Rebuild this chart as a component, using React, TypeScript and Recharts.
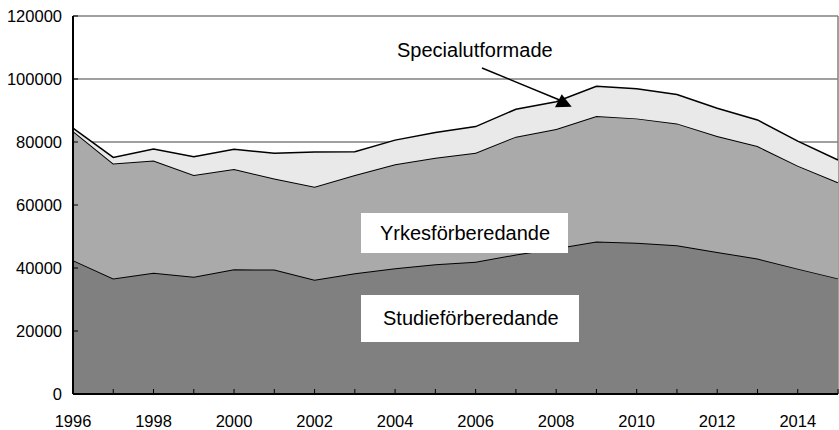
import React from 'react';
import { AreaChart, Area, XAxis, YAxis, CartesianGrid } from 'recharts';

const years = [
  1996, 1997, 1998, 1999, 2000, 2001, 2002, 2003, 2004, 2005,
  2006, 2007, 2008, 2009, 2010, 2011, 2012, 2013, 2014, 2015,
];
const studie = [
  42500, 36700, 38500, 37200, 39600, 39500, 36300, 38300, 39900, 41200,
  42000, 44300, 46300, 48400, 48000, 47200, 45100, 43000, 39800, 36700,
];
const yrkes = [
  41000, 36500, 35600, 32300, 31800, 28900, 29500, 31200, 33000, 33800,
  34600, 37400, 37800, 39850, 39500, 38700, 36800, 35700, 32700, 30500,
];
const special = [
  900, 1900, 3700, 5800, 6300, 8000, 11000, 7400, 7700, 8000,
  8300, 8700, 8700, 9450, 9400, 9200, 8800, 8300, 7800, 7100,
];
const yTicks = [0, 20000, 40000, 60000, 80000, 100000, 120000];

const data = years.map((year, i) => ({
  year,
  studie: studie[i],
  yrkes: yrkes[i],
  special: special[i],
}));

const FONT = '"Liberation Sans", Arial, sans-serif';

function YearTick(props: any) {
  const { x, y, payload } = props;
  const showLabel = payload.value % 2 === 0;
  return (
    <g>
      <line x1={x} y1={y} x2={x} y2={y - 5} stroke="#000" strokeWidth={1} />
      {showLabel && (
        <text x={x} y={y + 33} textAnchor="middle" fontSize={16.5} fontFamily={FONT} fill="#000">
          {payload.value}
        </text>
      )}
    </g>
  );
}

function ValueTick(props: any) {
  const { x, y, payload } = props;
  return (
    <g>
      <line x1={x} y1={y} x2={x + 5} y2={y} stroke="#000" strokeWidth={1} />
      <text x={x - 11} y={y} dy="0.36em" textAnchor="end" fontSize={16.5} fontFamily={FONT} fill="#000">
        {payload.value}
      </text>
    </g>
  );
}

export default function App() {
  return (
    <div style={{ position: 'absolute', left: 0, top: 0, width: 839, height: 430, background: '#fff' }}>
      <AreaChart
        width={839}
        height={430}
        data={data}
        margin={{ top: 16, right: 1, bottom: 0, left: 0 }}
      >
        <CartesianGrid
          stroke="#808080"
          strokeWidth={1.5}
          horizontal
          vertical
          verticalCoordinatesGenerator={({ offset }: any) => [offset.left + offset.width]}
        />
        <XAxis
          dataKey="year"
          type="number"
          domain={[1996, 2015]}
          ticks={years}
          interval={0}
          height={36}
          tickSize={0}
          tickMargin={0}
          tickLine={false}
          axisLine={{ stroke: '#000', strokeWidth: 2 }}
          tick={<YearTick />}
        />
        <YAxis
          domain={[0, 120000]}
          ticks={yTicks}
          interval={0}
          width={73}
          tickSize={0}
          tickMargin={0}
          tickLine={false}
          axisLine={{ stroke: '#000', strokeWidth: 2 }}
          tick={<ValueTick />}
        />
        <Area
          type="linear"
          dataKey="studie"
          stackId="a"
          fill="#808080"
          fillOpacity={1}
          stroke="#000"
          strokeWidth={2}
          isAnimationActive={false}
        />
        <Area
          type="linear"
          dataKey="yrkes"
          stackId="a"
          fill="#aaaaaa"
          fillOpacity={1}
          stroke="#000"
          strokeWidth={2}
          isAnimationActive={false}
        />
        <Area
          type="linear"
          dataKey="special"
          stackId="a"
          fill="#e9e9e9"
          fillOpacity={1}
          stroke="#000"
          strokeWidth={1.5}
          isAnimationActive={false}
        />
      </AreaChart>

      {/* series captions and the pointer to the thin top band */}
      <svg
        width={839}
        height={430}
        style={{ position: 'absolute', left: 0, top: 0, pointerEvents: 'none' }}
        fontFamily={FONT}
      >
        <text x={397} y={57} fontSize={20} fill="#000">Specialutformade</text>
        <line x1={482} y1={68} x2={562} y2={101} stroke="#000" strokeWidth={1.5} />
        <polygon points="561.7,94.3 555,107.3 571.7,106.7" fill="#000" />

        <rect x={361} y={213} width={207} height={40} fill="#fff" />
        <text x={380} y={240} fontSize={20} fill="#000">Yrkesförberedande</text>

        <rect x={361} y={295} width={218} height={47} fill="#fff" />
        <text x={383} y={325} fontSize={20} fill="#000">Studieförberedande</text>
      </svg>
    </div>
  );
}
